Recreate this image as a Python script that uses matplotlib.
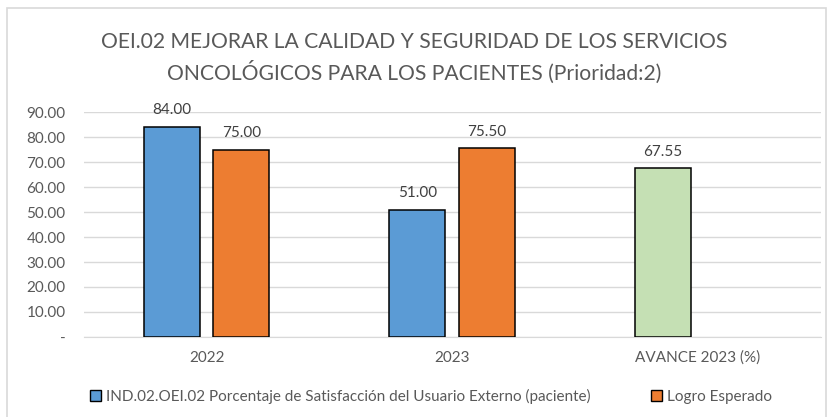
import matplotlib
matplotlib.use("Agg")
import matplotlib.pyplot as plt
from matplotlib.patches import Patch, Rectangle
import numpy as np

categories = ["2022", "2023", "AVANCE 2023 (%)"]
satisfaccion = [84.00, 51.00]
logro = [75.00, 75.50]
avance = [67.55]
series_names = ["IND.02.OEI.02 Porcentaje de Satisfacción del Usuario Externo (paciente)",
                "Logro Esperado"]
title = "OEI.02 MEJORAR LA CALIDAD Y SEGURIDAD DE LOS SERVICIOS\nONCOLÓGICOS PARA LOS PACIENTES (Prioridad:2)"

BLUE, ORANGE, GREEN = "#5B9BD5", "#ED7D31", "#C5E0B4"
TXT = "#595959"
plt.rcParams["font.family"] = ["Lato", "DejaVu Sans"]

fig = plt.figure(figsize=(8.29, 4.17), dpi=100)
ax = fig.add_axes([0.101, 0.192, 0.889, 0.539])

w, off = 0.228, 0.142
x = np.arange(len(categories))
b1 = ax.bar(x[:2] - off, satisfaccion, w, color=BLUE, edgecolor="black", linewidth=1.1, zorder=3)
b2 = ax.bar(x[:2] + off, logro, w, color=ORANGE, edgecolor="black", linewidth=1.1, zorder=3)
b3 = ax.bar(x[2:] - off, avance, w, color=GREEN, edgecolor="black", linewidth=1.1, zorder=3)
for bars in (b1, b2, b3):
    for r in bars:
        ax.annotate(f"{r.get_height():.2f}", (r.get_x() + r.get_width() / 2, r.get_height()),
                    xytext=(0, 7), textcoords="offset points", ha="center", va="bottom",
                    fontsize=11, color="#404040")

ax.set_xlim(-0.5, 2.5)
ax.set_ylim(0, 90)
yt = np.arange(0, 91, 10)
ax.set_yticks(yt)
ax.set_yticklabels(["-"] + [f"{v:.2f}" for v in yt[1:]])
ax.set_xticks(x)
ax.set_xticklabels(categories)
ax.tick_params(length=0, labelsize=11, labelcolor=TXT)
ax.tick_params(axis="x", pad=10)
ax.tick_params(axis="y", pad=13)
ax.grid(axis="y", color="#d9d9d9", linewidth=1.0, zorder=0)
for s in ("top", "right", "left"):
    ax.spines[s].set_visible(False)
ax.spines["bottom"].set_color("#d9d9d9")

fig.text(0.5, 0.862, title, ha="center", va="center", fontsize=15.2, color=TXT, linespacing=1.45)

handles = [Patch(facecolor=BLUE, edgecolor="black", linewidth=1.0),
           Patch(facecolor=ORANGE, edgecolor="black", linewidth=1.0)]
fig.legend(handles, series_names, loc="center", bbox_to_anchor=(0.52, 0.05), ncol=2, frameon=False,
           fontsize=11, labelcolor=TXT, handlelength=0.7, handleheight=0.7, handletextpad=0.3,
           columnspacing=4.0)

fig.patches.append(Rectangle((0.008, -0.1), 0.988, 1.08, transform=fig.transFigure,
                             fill=False, edgecolor="#d9d9d9", linewidth=1.2))
fig.savefig("out.png", dpi=100)
